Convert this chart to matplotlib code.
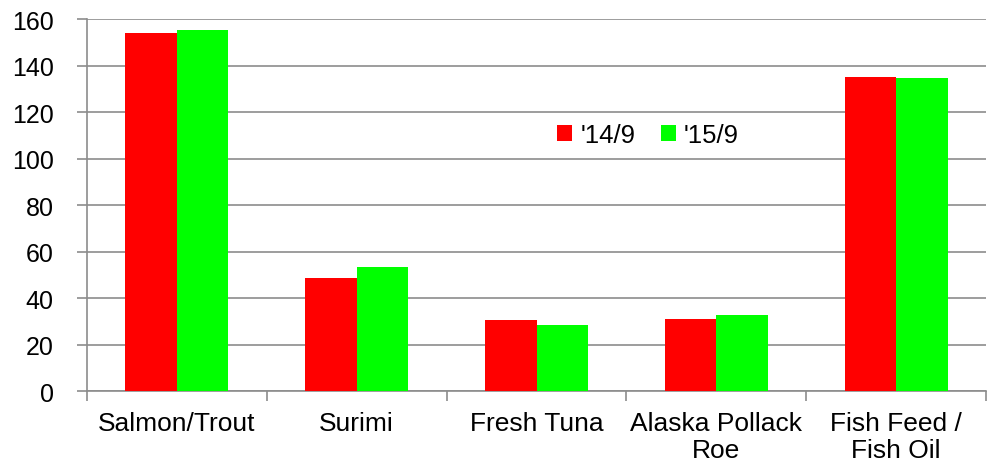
import matplotlib
matplotlib.use("Agg")
import matplotlib.pyplot as plt
import numpy as np

categories = ["Salmon/Trout", "Surimi", "Fresh Tuna", "Alaska Pollack\nRoe", "Fish Feed /\nFish Oil"]
series_names = ["'14/9", "'15/9"]
values_14 = [153.8, 48.8, 30.6, 31.0, 135.0]
values_15 = [155.2, 53.3, 28.4, 32.8, 134.8]
yticks = [0, 20, 40, 60, 80, 100, 120, 140, 160]

plt.rcParams["font.family"] = ["Liberation Sans", "DejaVu Sans"]

fig = plt.figure(figsize=(10, 4.77), dpi=100)
ax = fig.add_axes([0.087, 0.178, 0.899, 0.780])

x = np.arange(len(categories))
w = 0.286
ax.bar(x - w / 2, values_14, w, color="#ff0000", label=series_names[0], zorder=3)
ax.bar(x + w / 2, values_15, w, color="#00ff00", label=series_names[1], zorder=3)

grey = "#8c8c8c"
ax.set_xlim(-0.5, len(categories) - 0.5)
ax.set_ylim(0, 160)
ax.set_yticks(yticks)
ax.yaxis.grid(True, color=grey, linewidth=1.2, zorder=0)
ax.tick_params(axis="y", direction="out", length=7, width=1.2, color=grey,
               labelsize=18, pad=17)

# tick marks between categories, labels centred under each group
ax.set_xticks(np.arange(len(categories) + 1) - 0.5)
ax.set_xticklabels([])
ax.set_xticks(x, minor=True)
ax.set_xticklabels(categories, minor=True)
ax.tick_params(axis="x", which="major", direction="out", length=7, width=1.2, color=grey)
ax.tick_params(axis="x", which="minor", length=0, labelsize=19, pad=14)

for side in ["top", "right"]:
    ax.spines[side].set_visible(False)
for side in ["left", "bottom"]:
    ax.spines[side].set_color(grey)
    ax.spines[side].set_linewidth(1.2)

ax.legend(loc="center", bbox_to_anchor=(0.624, 0.688), ncol=2, frameon=False,
          fontsize=18.5, handlelength=0.6, handleheight=0.6, handletextpad=0.3,
          columnspacing=1.0)

fig.savefig("out.png", dpi=100)
